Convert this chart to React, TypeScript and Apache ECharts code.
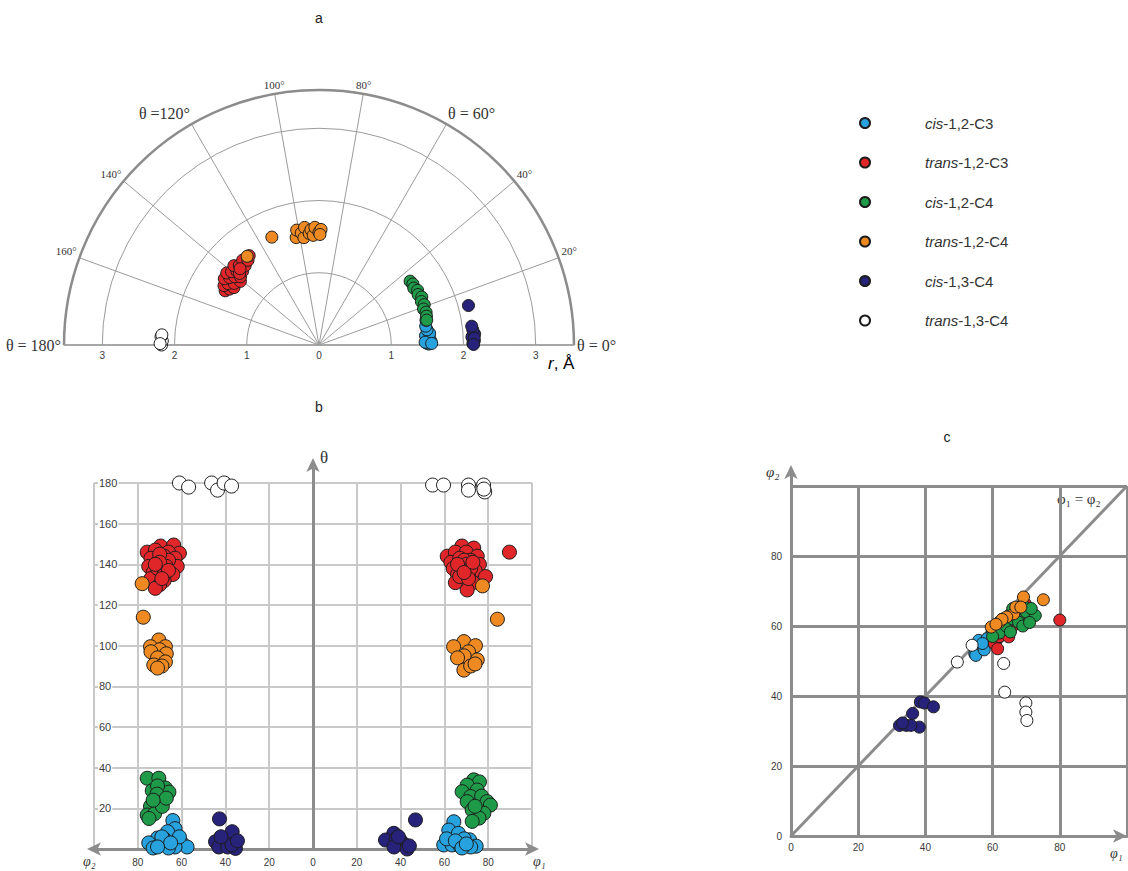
import React, { useEffect, useRef } from 'react';
import * as echarts from 'echarts';

const names = ['cis-1,2-C3', 'trans-1,2-C3', 'cis-1,2-C4', 'trans-1,2-C4', 'cis-1,3-C4', 'trans-1,3-C4'];
const colors = ['#27a2de', '#e1262a', '#1f9a48', '#ef8a22', '#27237a', '#ffffff'];

// Panel a: [r (Å), θ (deg)]
const aCisC3 = [[1.52, 0.5], [1.49, 1], [1.55, 2], [1.5, 3], [1.53, 4], [1.48, 5], [1.54, 6], [1.51, 8], [1.5, 10], [1.52, 13], [1.47, 1.5], [1.56, 0.8]];
const aTransC3 = [[1.5, 150], [1.46, 148], [1.55, 148], [1.42, 146], [1.52, 146], [1.6, 145], [1.45, 144], [1.55, 143], [1.62, 142], [1.4, 141], [1.5, 141], [1.58, 140], [1.44, 139], [1.53, 138], [1.61, 137], [1.47, 136], [1.56, 135], [1.5, 133], [1.58, 132], [1.53, 130], [1.57, 128], [1.48, 138], [1.52, 136]];
const aCisC4 = [[1.54, 35], [1.55, 33], [1.53, 31], [1.56, 29], [1.54, 27], [1.57, 25], [1.54, 23], [1.56, 21], [1.53, 19], [1.55, 17], [1.54, 15], [1.53, 13]];
const aTransC4 = [[1.58, 129], [1.63, 113.6], [1.52, 102], [1.62, 101], [1.57, 99], [1.5, 98], [1.64, 97], [1.55, 95], [1.6, 94], [1.52, 93], [1.63, 92], [1.56, 90], [1.6, 89], [1.53, 89.5]];
const aCis13 = [[2.14, 14.8], [2.13, 0.5], [2.15, 1.5], [2.12, 3], [2.16, 4], [2.14, 5.5], [2.13, 7], [2.15, 2.5], [2.14, 0.2]];
const aTrans13 = [[2.18, 180], [2.17, 178.5], [2.19, 177], [2.18, 176.3], [2.2, 179.5]];

// Panel b, left half: [φ2, θ]
const bL_CisC3 = [[64, 14], [63, 10], [66.4, 8.5], [68, 5], [71, 5.4], [75, 3], [70, 2], [60, 3], [57.5, 1], [63, 1], [66, 0.5], [73, 0.5], [69, 6], [61, 6], [65, 3], [71, 1]];
const bL_TransC3 = [[69.6, 149], [63.6, 149.5], [75.7, 146], [61, 145.5], [72, 147], [66, 146], [74, 143], [68, 144], [63, 143], [71, 141], [65, 140], [75, 139], [69, 138], [62, 139], [73, 136], [67, 136], [64, 135], [71, 134], [68, 132], [74, 133], [70, 130], [72, 128.2], [66, 142], [70, 145], [69, 136], [67, 139], [71, 138], [68, 135], [70, 141], [66, 137], [72, 140], [69, 133]];
const bL_CisC4 = [[75.7, 34.8], [70.4, 34.8], [67.4, 30], [65.8, 28], [73.4, 28.7], [71, 31], [69.6, 24], [74.2, 21], [75.7, 16.7], [72.3, 17.4], [68.8, 21], [74.9, 15], [71.2, 27], [67, 25], [73, 24]];
const bL_TransC4 = [[78, 130.5], [77.5, 114], [70.4, 102.8], [74.2, 99.5], [67.4, 99.5], [70, 98], [74, 97], [67, 96], [71, 94], [72.7, 90.5], [67.4, 92], [69, 90], [71, 89]];
const bL_Cis13 = [[42.7, 14.8], [44.5, 3.6], [40.1, 4.6], [38, 5], [36.9, 8.5], [43, 1], [39, 1], [35.4, 0.3], [37, 2], [42, 6], [34.5, 4]];
const bL_Trans13 = [[61, 180], [56.8, 178], [46.3, 180], [43.6, 176.5], [40.6, 180], [37.2, 178.5]];

// Panel b, right half: [φ1, θ]
const bR_CisC3 = [[64.3, 13.4], [62, 9.3], [66.4, 7.7], [59.7, 2], [71.5, 4.5], [74.5, 1.4], [63.5, 2], [67.2, 1.5], [69, 5], [61, 5], [65, 4], [72, 1], [68, 0.5], [70, 2.5]];
const bR_TransC3 = [[68, 149], [73.4, 148], [61.3, 144], [65, 146], [70, 146], [75, 144], [63, 141], [67, 143], [72, 142], [76, 140], [64, 138], [69, 139], [74, 137], [66, 135], [71, 135], [78.8, 134], [68, 132], [73, 131], [70.4, 127.4], [65, 131], [69, 142], [89.7, 146], [68, 137], [70, 140], [67, 134], [72, 138], [66, 140], [71, 133], [69, 136], [73, 141]];
const bR_CisC4 = [[73.4, 34], [76, 33], [70.4, 31.4], [68.1, 28.2], [75, 29], [72, 25.8], [77, 26], [79.5, 23.3], [81, 21.6], [70.4, 23.3], [72.7, 19.2], [78, 17.6], [75.8, 15.2], [72.7, 13.6], [74, 21]];
const bR_TransC4 = [[77.4, 129.4], [84.2, 113], [68.9, 102], [74.2, 100], [64.2, 99.5], [71, 97], [75, 93], [69, 95], [66, 94], [68.9, 88], [72, 90], [74, 91]];
const bR_Cis13 = [[46.8, 14.3], [36.9, 7.7], [33.1, 4.4], [38, 5], [40, 4], [42, 2], [37, 1], [43, 0], [44, 1.5], [39, 6]];
const bR_Trans13 = [[54.6, 179], [59.6, 179], [71, 179], [71, 176.5], [77.9, 179], [78.4, 175.6], [78, 177]];

// Panel c: [φ1, φ2]
const c_CisC3 = [[54.7, 52.1], [55, 51.6], [55.9, 55.9], [58.4, 56.4], [59.9, 58.8], [60.8, 55], [57.5, 53.2], [61.8, 56.7], [57, 55]];
const c_TransC3 = [[60.5, 55], [62, 57], [64.8, 56.9], [66, 60], [68, 62], [69.7, 66.4], [65, 63], [63, 61], [67, 64], [80, 61.7], [61.5, 53.5]];
const c_CisC4 = [[62, 58], [64, 60], [66, 62], [68, 63], [70, 64], [72.7, 63], [67.7, 61.1], [65.3, 58.3], [69, 60], [71, 61], [63, 62], [66, 65], [69, 66], [71.5, 65], [60, 57]];
const c_TransC4 = [[69.2, 68.3], [75.1, 67.5], [62, 61.1], [66.3, 63.5], [59.6, 59.7], [64.2, 62.6], [66.9, 65.4], [62.8, 61.9], [68.4, 65.4], [61, 60.5]];
const c_Cis13 = [[32.3, 31.6], [34.3, 31.6], [36.2, 35], [38.2, 31.1], [38.5, 38.3], [39.7, 38], [42.4, 36.9], [35.7, 31.6], [33.2, 32.3]];
const c_Trans13 = [[49.5, 49.7], [53.9, 54.5], [63.3, 49.3], [63.6, 41.1], [69.9, 38], [69.9, 35.4], [70.2, 33]];

const diagonal = [[0, 0], [100, 100]];

const thetaLabels: Record<number, string> = {
  0: 'θ = 0°', 20: '20°', 40: '40°', 60: 'θ = 60°', 80: '80°', 100: '100°',
  120: 'θ =120°', 140: '140°', 160: '160°', 180: 'θ = 180°',
};

const aData = [aCisC3, aTransC3, aCisC4, aTransC4, aCis13, aTrans13];
const bLeft = [bL_CisC3, bL_TransC3, bL_CisC4, bL_TransC4, bL_Cis13, bL_Trans13];
const bRight = [bR_CisC3, bR_TransC3, bR_CisC4, bR_TransC4, bR_Cis13, bR_Trans13];
const cData = [c_CisC3, c_TransC3, c_CisC4, c_TransC4, c_Cis13, c_Trans13];
const bZ = [4, 2, 3, 3, 3, 3];

const SERIF = '"Liberation Serif", "DejaVu Serif", serif';
const SANS = '"Liberation Sans", Arial, sans-serif';
const GRID_B = '#c9c9c9';
const AXIS_GRAY = '#8c8c8c';

export default function App() {
  const ref = useRef<HTMLDivElement>(null);
  useEffect(() => {
    if (!ref.current) return;
    const chart = echarts.init(ref.current, undefined, { renderer: 'svg' });

    const series: any[] = [];
    names.forEach((name, i) => {
      const itemStyle = { color: colors[i], borderColor: '#1c1c1c', borderWidth: 1, opacity: 1 };
      series.push({ type: 'scatter', name, coordinateSystem: 'polar', polarIndex: 0, data: aData[i], symbolSize: 12, itemStyle, z: 3 });
      series.push({
        type: 'scatter', name, xAxisIndex: 1, yAxisIndex: 1,
        data: [...bLeft[i].map(([p, t]) => [-p, t]), ...bRight[i]],
        symbolSize: 14, itemStyle, z: bZ[i],
      });
      series.push({ type: 'scatter', name, xAxisIndex: 3, yAxisIndex: 3, data: cData[i], symbolSize: 12, itemStyle, z: 3 });
    });
    series.push({
      type: 'line', xAxisIndex: 3, yAxisIndex: 3, data: diagonal, symbol: 'none', silent: true, z: 1,
      lineStyle: { color: AXIS_GRAY, width: 3 },
    });

    const axisLabelSmall = { color: '#3a3a3a', fontSize: 10, fontFamily: SANS };

    const option: any = {
      animation: false,
      backgroundColor: '#ffffff',
      polar: { center: [319, 345], radius: 255 },
      angleAxis: {
        type: 'value', min: 0, max: 180, interval: 20,
        startAngle: 0, endAngle: 180, clockwise: false,
        axisLine: { lineStyle: { color: AXIS_GRAY, width: 2.5 } },
        axisTick: { show: false },
        splitLine: { lineStyle: { color: '#9b9b9b', width: 1 } },
        axisLabel: {
          margin: 3,
          formatter: (v: number) => {
            const t = thetaLabels[v] || '';
            return t.startsWith('θ') ? `{big|${t}}` : `{sm|${t}}`;
          },
          rich: {
            big: { fontSize: 16, fontFamily: SERIF, color: '#333' },
            sm: { fontSize: 11, fontFamily: SERIF, color: '#333' },
          },
        },
      },
      radiusAxis: {
        min: 0, max: 3.53, interval: 1,
        axisLine: { show: false }, axisTick: { show: false }, axisLabel: { show: false },
        splitLine: { show: true, lineStyle: { color: '#9b9b9b', width: 1 } },
      },
      grid: [
        { left: 64, width: 510, top: 344, height: 1 },
        { left: 94, right: 596, top: 483, bottom: 22 },
        { left: 94, right: 596, top: 465, bottom: 22 },
        { left: 791, right: 1, top: 486, bottom: 35 },
        { left: 791, right: 1, top: 472, bottom: 35 },
      ],
      xAxis: [
        {
          gridIndex: 0, type: 'value', min: -3.53, max: 3.53,
          axisLine: { lineStyle: { color: '#9b9b9b', width: 1.5 } },
          axisTick: { show: false }, splitLine: { show: false },
          axisLabel: { ...axisLabelSmall, margin: 5, showMinLabel: false, showMaxLabel: false, formatter: (v: number) => String(Math.abs(v)) },
        },
        {
          gridIndex: 1, type: 'value', min: -100, max: 100, interval: 20,
          axisLine: { onZero: false, lineStyle: { color: AXIS_GRAY, width: 3 }, symbol: ['arrow', 'arrow'], symbolSize: [10, 14], symbolOffset: [-7, 7] },
          axisTick: { show: false },
          splitLine: { show: true, lineStyle: { color: GRID_B, width: 2 } },
          axisLabel: { ...axisLabelSmall, margin: 8, showMinLabel: false, showMaxLabel: false, formatter: (v: number) => String(Math.abs(v)) },
        },
        { gridIndex: 2, type: 'value', min: -100, max: 100, show: false },
        {
          gridIndex: 3, type: 'value', min: 0, max: 100, interval: 20,
          axisLine: { lineStyle: { color: AXIS_GRAY, width: 3 }, symbol: ['none', 'arrow'], symbolSize: [10, 14], symbolOffset: [0, 0] },
          axisTick: { show: false },
          splitLine: { show: true, lineStyle: { color: AXIS_GRAY, width: 3 } },
          axisLabel: { ...axisLabelSmall, margin: 6, showMaxLabel: false },
        },
        { gridIndex: 4, type: 'value', min: 0, max: 100, show: false },
      ],
      yAxis: [
        { gridIndex: 0, type: 'value', min: 0, max: 1, show: false },
        {
          gridIndex: 1, type: 'value', min: 0, max: 180, interval: 20,
          axisLine: { onZero: true, lineStyle: { color: AXIS_GRAY, width: 3 } },
          axisTick: { show: false },
          splitLine: { show: true, lineStyle: { color: GRID_B, width: 2 } },
          axisLabel: { ...axisLabelSmall, color: '#3a3a3a', fontSize: 11, inside: true, margin: 4, showMinLabel: false, backgroundColor: '#ffffff', padding: [0, 1] },
        },
        {
          gridIndex: 2, type: 'value', min: 0, max: 189,
          axisLine: { onZero: true, lineStyle: { color: AXIS_GRAY, width: 3 }, symbol: ['none', 'arrow'], symbolSize: [10, 14], symbolOffset: [0, 7] },
          axisTick: { show: false }, axisLabel: { show: false }, splitLine: { show: false },
        },
        {
          gridIndex: 3, type: 'value', min: 0, max: 100, interval: 20,
          axisLine: { lineStyle: { color: AXIS_GRAY, width: 3 } },
          axisTick: { show: false },
          splitLine: { show: true, lineStyle: { color: AXIS_GRAY, width: 3 } },
          axisLabel: { ...axisLabelSmall, margin: 9, showMaxLabel: false },
        },
        {
          gridIndex: 4, type: 'value', min: 0, max: 104,
          axisLine: { lineStyle: { color: AXIS_GRAY, width: 3 }, symbol: ['none', 'arrow'], symbolSize: [10, 14], symbolOffset: [0, 7] },
          axisTick: { show: false }, axisLabel: { show: false }, splitLine: { show: false },
        },
      ],
      legend: {
        orient: 'vertical', left: 854, top: 109, selectedMode: false,
        data: names, icon: 'circle', itemWidth: 48, itemHeight: 10, itemGap: 21.5,
        formatter: (name: string) => {
          const k = name.indexOf('-');
          return `{it|${name.slice(0, k)}}{n|${name.slice(k)}}`;
        },
        textStyle: {
          padding: [0, 0, 0, 31], lineHeight: 18,
          rich: {
            it: { fontStyle: 'italic', fontSize: 15, fontFamily: SANS, color: '#333', lineHeight: 18 },
            n: { fontSize: 15, fontFamily: SANS, color: '#333', lineHeight: 18 },
          },
        },
      },
      graphic: [
        { type: 'text', x: 319, y: 18, style: { text: 'a', font: `14px ${SANS}`, fill: '#222', align: 'center', verticalAlign: 'middle', textAlign: 'center', textVerticalAlign: 'middle' } },
        { type: 'text', x: 319, y: 407, style: { text: 'b', font: `14px ${SANS}`, fill: '#222', align: 'center', verticalAlign: 'middle', textAlign: 'center', textVerticalAlign: 'middle' } },
        { type: 'text', x: 947, y: 437, style: { text: 'c', font: `14px ${SANS}`, fill: '#222', align: 'center', verticalAlign: 'middle', textAlign: 'center', textVerticalAlign: 'middle' } },
        { type: 'text', x: 548, y: 363, style: { text: '{i|r}{n|, Å}', rich: { i: { fontStyle: 'italic', fontSize: 17, fontFamily: SANS, color: '#333' }, n: { fontSize: 17, fontFamily: SANS, color: '#333' } }, verticalAlign: 'middle', textVerticalAlign: 'middle' } },
        { type: 'text', x: 320, y: 457, style: { text: 'θ', font: `17px ${SERIF}`, fill: '#333', verticalAlign: 'middle', textVerticalAlign: 'middle' } },
        { type: 'text', x: 83, y: 861, style: { text: 'φ₂', font: `italic 14px ${SERIF}`, fill: '#333', verticalAlign: 'middle', textVerticalAlign: 'middle' } },
        { type: 'text', x: 533, y: 861, style: { text: 'φ₁', font: `italic 14px ${SERIF}`, fill: '#333', verticalAlign: 'middle', textVerticalAlign: 'middle' } },
        { type: 'text', x: 766, y: 472, style: { text: 'φ₂', font: `italic 15px ${SERIF}`, fill: '#333', verticalAlign: 'middle', textVerticalAlign: 'middle' } },
        { type: 'text', x: 1110, y: 853, style: { text: 'φ₁', font: `italic 14px ${SERIF}`, fill: '#333', verticalAlign: 'middle', textVerticalAlign: 'middle' } },
        { type: 'text', x: 1057, y: 499, style: { text: 'φ₁ = φ₂', font: `15px ${SERIF}`, fill: '#333', verticalAlign: 'middle', textVerticalAlign: 'middle' } },
      ],
      series,
    };
    chart.setOption(option);
    return () => chart.dispose();
  }, []);

  return <div ref={ref} style={{ position: 'absolute', left: 0, top: 0, width: 1128, height: 871, background: '#fff' }} />;
}
